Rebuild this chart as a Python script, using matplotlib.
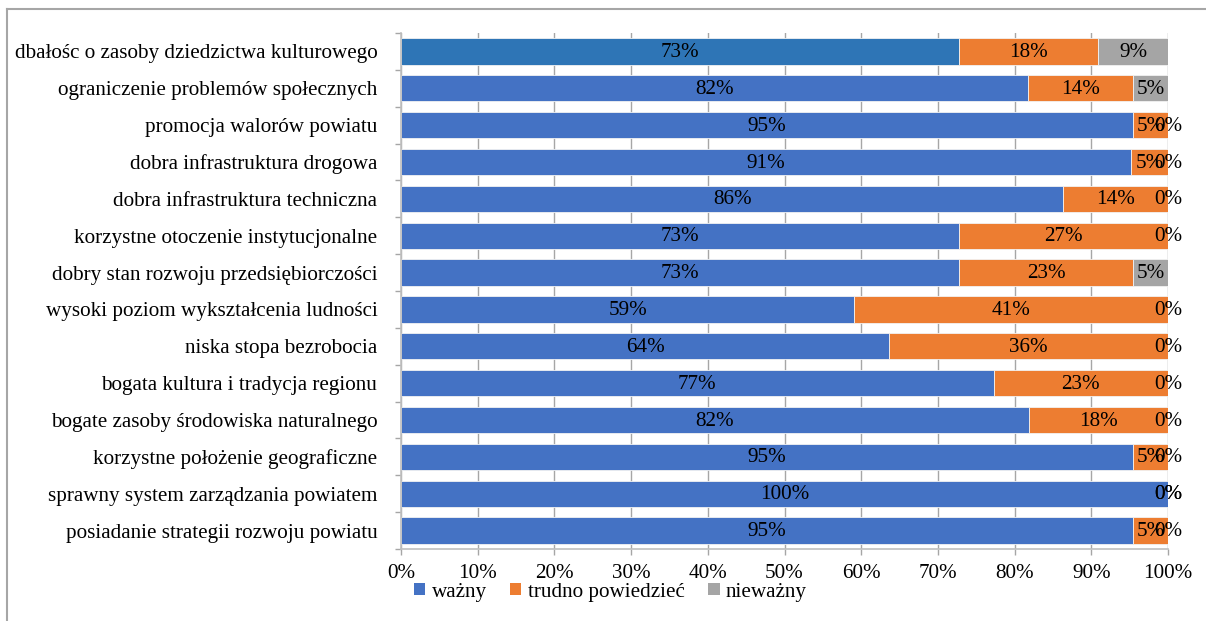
import matplotlib
matplotlib.use("Agg")
import matplotlib.pyplot as plt
from matplotlib.lines import Line2D
from matplotlib.patches import Patch
import numpy as np

categories = [
    "dbałośc o zasoby dziedzictwa kulturowego",
    "ograniczenie problemów społecznych",
    "promocja walorów powiatu",
    "dobra infrastruktura drogowa",
    "dobra infrastruktura techniczna",
    "korzystne otoczenie instytucjonalne",
    "dobry stan rozwoju przedsiębiorczości",
    "wysoki poziom wykształcenia ludności",
    "niska stopa bezrobocia",
    "bogata kultura i tradycja regionu",
    "bogate zasoby środowiska naturalnego",
    "korzystne położenie geograficzne",
    "sprawny system zarządzania powiatem",
    "posiadanie strategii rozwoju powiatu",
]
wazny = [72.73, 81.82, 95.45, 90.91, 86.36, 72.73, 72.73, 59.09, 63.64, 77.27, 81.82, 95.45, 100.0, 95.45]
trudno = [18.18, 13.64, 4.55, 4.55, 13.64, 27.27, 22.73, 40.91, 36.36, 22.73, 18.18, 4.55, 0.0, 4.55]
niewazny = [9.09, 4.55, 0.0, 0.0, 0.0, 0.0, 4.55, 0.0, 0.0, 0.0, 0.0, 0.0, 0.0, 0.0]
series_names = ["ważny", "trudno powiedzieć", "nieważny"]
xticks = [0, 10, 20, 30, 40, 50, 60, 70, 80, 90, 100]

plt.rcParams['font.family'] = ['Liberation Serif', 'DejaVu Serif']
FS = 15.2

fig = plt.figure(figsize=(12.06, 6.21), dpi=100)
ax = fig.add_axes([401/1206, 1-549/621, 767/1206, 516/621])

data = np.array([wazny, trudno, niewazny], dtype=float)
totals = data.sum(axis=0)
norm = data / totals * 100
colors = ["#4472C4", "#ED7D31", "#A5A5A5"]
y = np.arange(len(categories))
left = np.zeros(len(categories))
for i in range(3):
    cols = [colors[i]] * len(categories)
    if i == 0:
        cols[0] = "#2E75B6"
    ax.barh(y, norm[i], left=left, height=0.71, color=cols, edgecolor="#f2f2f2",
            linewidth=0.6, zorder=2)
    for j in range(len(categories)):
        cx = left[j] + norm[i][j] / 2
        ax.text(cx, y[j] + 0.03, f"{data[i][j]:.0f}%", ha="center", va="center",
                fontsize=FS, color="black", zorder=3)
    left += norm[i]

ax.set_xlim(0, 100)
ax.set_ylim(len(categories) - 0.5, -0.5)
ax.set_xticks(xticks)
ax.set_xticklabels([f"{t}%" for t in xticks], fontsize=FS)
ax.set_yticks(y)
ax.set_yticklabels(categories, fontsize=FS)
ax.set_yticks(np.arange(-0.5, len(categories), 1), minor=True)
ax.tick_params(axis="y", which="major", length=0, pad=17)
ax.tick_params(axis="y", which="minor", length=4, color="#a6a6a6", width=1)
ax.tick_params(axis="x", which="major", length=4, color="#a6a6a6", width=1, pad=7)
ax.xaxis.grid(True, color="#a6a6a6", linewidth=1, zorder=0)
ax.set_axisbelow(True)
for s in ["top", "right"]:
    ax.spines[s].set_visible(False)
for s in ["left", "bottom"]:
    ax.spines[s].set_color("#bfbfbf")
    ax.spines[s].set_linewidth(1.2)

handles = [Patch(facecolor=c, edgecolor="none") for c in colors]
fig.legend(handles, series_names, loc="center", bbox_to_anchor=(0.506, 1-592/621),
           ncol=3, frameon=False, fontsize=FS, handlelength=0.55, handleheight=0.55,
           handletextpad=0.3, columnspacing=1.1, borderaxespad=0)

# outer frame
fig.add_artist(Line2D([7/1206, 7/1206], [0, 1-9/621], transform=fig.transFigure,
                      color="#a6a6a6", linewidth=1.5))
fig.add_artist(Line2D([7/1206, 1], [1-9/621, 1-9/621], transform=fig.transFigure,
                      color="#a6a6a6", linewidth=1.5))

fig.savefig("out.png", dpi=100)
